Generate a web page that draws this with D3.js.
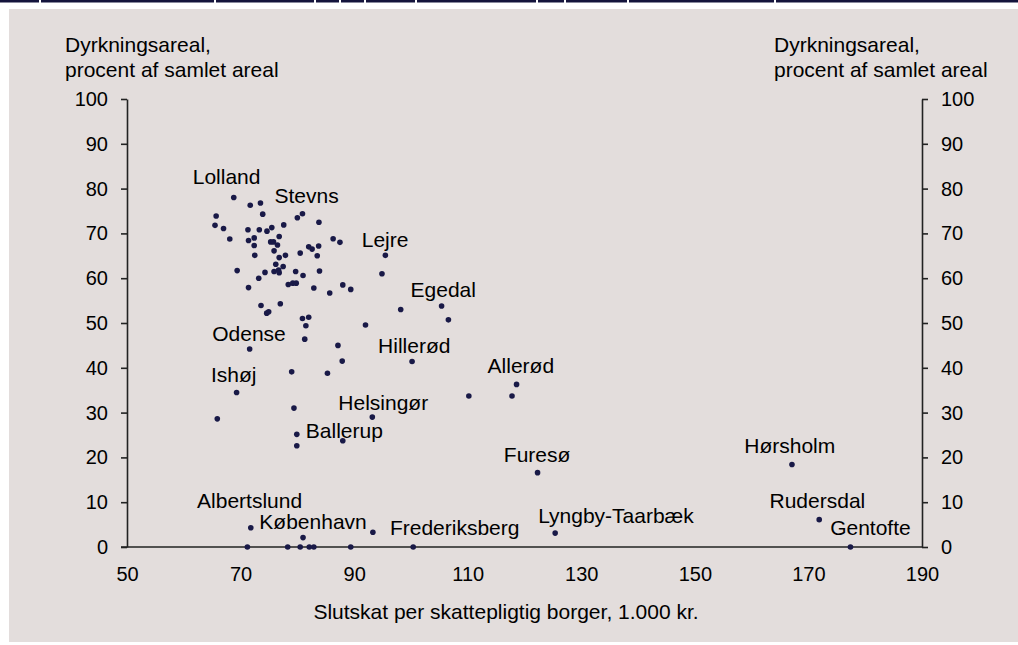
<!DOCTYPE html>
<html>
<head>
<meta charset="utf-8">
<script src="https://cdn.jsdelivr.net/npm/d3@7"></script>
<style>
  html, body { margin: 0; padding: 0; background: #ffffff; }
  svg { display: block; }
  text { font-family: "Liberation Sans", Arial, Helvetica, sans-serif; fill: #000; }
</style>
</head>
<body>
<svg id="chart" width="1018" height="645"></svg>
<script>
// ---------- DATA ----------
// Slutskat per skattepligtig borger (1.000 kr.)
const slutskat = [
  68.8, 80.9, 95.5, 105.4, 100.2, 71.6, 69.3, 93.2, 88.0, 118.6, 122.3, 167.1, 171.9, 177.4, 71.8, 81.0, 100.4, 125.4,
  71.7, 73.5, 73.9, 65.7, 65.5, 67.0, 68.1, 71.3, 73.3, 74.65, 75.5, 77.6, 80.0, 83.8, 71.4, 72.4, 72.4, 75.3, 75.8,
  76.5, 76.8, 75.9, 72.5, 76.8, 77.9, 80.5, 82.0, 82.6, 83.75, 83.5, 86.3, 87.5, 69.4, 73.2, 74.3, 75.9, 76.2, 76.7,
  76.8, 77.5, 71.4, 78.4, 79.2, 79.8, 79.7, 81.0, 83.9, 82.9, 85.7, 88.0, 89.4, 73.6, 77.0, 74.6, 74.95, 80.9, 82.0,
  81.5, 81.3, 87.15, 92.0, 87.9, 98.2, 106.6, 94.9, 79.0, 85.3, 65.9, 79.4, 110.2, 79.9, 79.9, 117.8, 71.2, 78.3,
  80.5, 82.1, 82.9, 89.4, 93.3
];
// Dyrkningsareal, procent af samlet areal
const dyrkning = [
  78.0, 74.4, 65.1, 53.8, 41.4, 44.2, 34.5, 29.0, 23.7, 36.3, 16.6, 18.4, 6.1, 0, 4.3, 2.1, 0, 3.1,
  76.3, 76.8, 74.3, 73.9, 71.8, 71.1, 68.75, 70.8, 70.8, 70.5, 71.3, 71.9, 73.5, 72.5, 68.4, 69.0, 67.3, 68.1, 68.1,
  67.4, 69.3, 66.1, 65.1, 64.6, 65.1, 65.6, 67.0, 66.5, 67.2, 65.0, 68.8, 68.0, 61.7, 60.0, 61.3, 61.5, 63.1, 61.8,
  61.2, 62.6, 57.9, 58.6, 58.9, 58.9, 61.5, 60.6, 61.6, 57.8, 56.7, 58.5, 57.5, 53.9, 54.3, 52.2, 52.5, 51.0, 51.3,
  49.4, 46.4, 45.0, 49.55, 41.5, 53.0, 50.7, 61.0, 39.1, 38.8, 28.6, 31.0, 33.7, 25.15, 22.6, 33.7, 0, 0,
  0, 0, 0, 0, 3.3
];
// Kommunenavne (kun de navngivne)
const navne = [
  "Lolland", "Stevns", "Lejre", "Egedal", "Hillerød", "Odense", "Ishøj", "Helsingør", "Ballerup", "Allerød",
  "Furesø", "Hørsholm", "Rudersdal", "Gentofte", "Albertslund", "København", "Frederiksberg", "Lyngby-Taarbæk"
];
const xTicks = [50, 70, 90, 110, 130, 150, 170, 190];
const yTicks = [0, 10, 20, 30, 40, 50, 60, 70, 80, 90, 100];
const yTitle = ["Dyrkningsareal,", "procent af samlet areal"];
const xTitle = "Slutskat per skattepligtig borger, 1.000 kr.";

// ---------- LAYOUT (label offsets in px relative to the point) ----------
const labelOffset = {
  "Lolland": [-41, -14], "Stevns": [-28, -11], "Lejre": [-23.6, -8.6], "Egedal": [-31, -8.6],
  "Hillerød": [-34, -8.6], "Odense": [-37.4, -8.3], "Ishøj": [-25.7, -10.6], "Helsingør": [-34, -7.3],
  "Ballerup": [-37, -3.3], "Allerød": [-29, -11], "Furesø": [-33.7, -11], "Hørsholm": [-47.7, -11.4],
  "Rudersdal": [-49.7, -11.4], "Gentofte": [-20.3, -11.7], "Albertslund": [-53.7, -19.4],
  "København": [-43.7, -8.4], "Frederiksberg": [-23.3, -12], "Lyngby-Taarbæk": [-17, -10]
};

const svg = d3.select("#chart");
const W = 1018, H = 645;

// top navy rule with small gaps
const gaps = [40, 215, 315, 340, 365, 416, 537, 565, 628, 775];
let prev = 0;
gaps.concat([W + 2]).forEach(g => {
  svg.append("rect").attr("x", prev).attr("y", 0).attr("width", Math.max(0, g - 1 - prev)).attr("height", 2.5).attr("fill", "#14143c");
  prev = g + 1;
});

// background panel
svg.append("rect").attr("x", 9).attr("y", 9).attr("width", W - 9).attr("height", 633).attr("fill", "#e3dddc");

const x = d3.scaleLinear().domain([50, 190]).range([127, 922]);
const y = d3.scaleLinear().domain([0, 100]).range([547, 99]);

const axisColor = "#222";
const gL = svg.append("g").attr("transform", `translate(${x(50)},0)`)
  .call(d3.axisLeft(y).tickValues(yTicks).tickSizeInner(6).tickSizeOuter(0).tickPadding(13));
const gR = svg.append("g").attr("transform", `translate(${x(190)},0)`)
  .call(d3.axisRight(y).tickValues(yTicks).tickSizeInner(6).tickSizeOuter(0).tickPadding(13));
const gB = svg.append("g").attr("transform", `translate(0,${y(0)})`)
  .call(d3.axisBottom(x).tickValues(xTicks).tickSizeInner(0).tickSizeOuter(0).tickPadding(20));

[gL, gR, gB].forEach(g => {
  g.select(".domain").attr("stroke", axisColor).attr("stroke-width", 1.6);
  g.selectAll(".tick line").attr("stroke", axisColor).attr("stroke-width", 1.6);
  g.selectAll(".tick text").attr("font-size", 20).attr("fill", "#000")
    .attr("font-family", '"Liberation Sans", Arial, sans-serif');
});
// extend bottom axis to left tick
gB.select(".domain").attr("d", `M${x(50) - 6},0H${x(190)}`);

// titles
const tl = svg.append("text").attr("x", 65).attr("y", 52).attr("font-size", 21);
tl.append("tspan").attr("x", 65).attr("y", 52).text(yTitle[0]);
tl.append("tspan").attr("x", 65).attr("y", 77).text(yTitle[1]);
const tr = svg.append("text").attr("font-size", 21);
tr.append("tspan").attr("x", 774).attr("y", 52).text(yTitle[0]);
tr.append("tspan").attr("x", 774).attr("y", 77).text(yTitle[1]);

svg.append("text").attr("x", 506).attr("y", 619).attr("text-anchor", "middle").attr("font-size", 21).text(xTitle);

// points
const pts = slutskat.map((v, i) => ({ sx: v, dy: dyrkning[i], name: navne[i] || null }));
svg.append("g").selectAll("circle").data(pts).join("circle")
  .attr("cx", d => x(d.sx)).attr("cy", d => y(d.dy)).attr("r", 2.8).attr("fill", "#191947");

// labels
svg.append("g").selectAll("text").data(pts.filter(d => d.name)).join("text")
  .attr("x", d => x(d.sx) + labelOffset[d.name][0])
  .attr("y", d => y(d.dy) + labelOffset[d.name][1])
  .attr("font-size", 21)
  .text(d => d.name);
</script>
</body>
</html>
